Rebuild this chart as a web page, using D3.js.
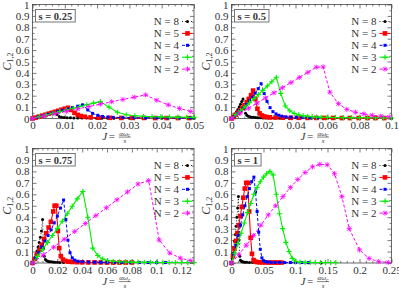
<!DOCTYPE html>
<html><head><meta charset="utf-8">
<script src="https://cdn.jsdelivr.net/npm/d3@7"></script>
<style>
body{margin:0;background:#fff}
svg{display:block}
text{font-family:"Liberation Serif","Times New Roman",serif;fill:#333}
</style>
</head><body>
<svg id="c" width="399" height="288"></svg>
<script>
// ---------------- DATA ----------------
const seriesNames = ["N = 8","N = 5","N = 4","N = 3","N = 2"];
const titles = ["s = 0.25","s = 0.5","s = 0.75","s = 1"];
const yTicks = [0,0.1,0.2,0.3,0.4,0.5,0.6,0.7,0.8,0.9,1];
const yTickLabels = ["0","0.1","0.2","0.3","0.4","0.5","0.6","0.7","0.8","0.9","1"];
const xTicks1 = [0,0.01,0.02,0.03,0.04,0.05];
const xTickLabels1 = ["0","0.01","0.02","0.03","0.04","0.05"];
const xTicks2 = [0,0.02,0.04,0.06,0.08,0.1];
const xTickLabels2 = ["0","0.02","0.04","0.06","0.08","0.1"];
const xTicks3 = [0,0.02,0.04,0.06,0.08,0.1,0.12];
const xTickLabels3 = ["0","0.02","0.04","0.06","0.08","0.1","0.12"];
const xTicks4 = [0,0.05,0.1,0.15,0.2,0.25];
const xTickLabels4 = ["0","0.05","0.1","0.15","0.2","0.25"];
const xMax = [0.05,0.1,0.13,0.25];

// s = 0.25
const p1_n8 = [[0,0],[0.0007,0.005],[0.0014,0.011],[0.0021,0.017],[0.0028,0.024],[0.0035,0.031],[0.0042,0.038],[0.0049,0.045],[0.0056,0.052],[0.0063,0.058],[0.0069,0.063],[0.0076,0.035],[0.0083,0.018],[0.009,0.012],[0.0098,0.009],[0.0107,0.007],[0.0117,0.006],[0.0128,0.005],[0.014,0.005],[0.0153,0.004],[0.0167,0.004],[0.0182,0.004],[0.0198,0.003],[0.0215,0.003],[0.0233,0.003],[0.0252,0.003],[0.0272,0.002],[0.03,0.002],[0.035,0.002],[0.04,0.002],[0.045,0.001],[0.05,0.001]];
const p1_n5 = [[0,0],[0.001,0.008],[0.002,0.016],[0.003,0.025],[0.004,0.033],[0.005,0.042],[0.006,0.05],[0.007,0.059],[0.008,0.068],[0.009,0.077],[0.01,0.086],[0.011,0.094],[0.012,0.075],[0.013,0.05],[0.014,0.032],[0.015,0.022],[0.0162,0.015],[0.018,0.01],[0.0205,0.007],[0.024,0.006],[0.0275,0.005],[0.031,0.005],[0.0345,0.005],[0.038,0.004],[0.0415,0.004],[0.045,0.004],[0.0485,0.004]];
const p1_n4 = [[0,0],[0.0016,0.012],[0.0031,0.024],[0.0047,0.036],[0.0062,0.048],[0.0078,0.06],[0.0093,0.072],[0.0109,0.084],[0.0124,0.096],[0.014,0.108],[0.0155,0.12],[0.0171,0.075],[0.0186,0.045],[0.0202,0.028],[0.0217,0.018],[0.0233,0.013],[0.025,0.01],[0.028,0.008],[0.0315,0.007],[0.035,0.006],[0.0385,0.006],[0.042,0.005],[0.0455,0.005],[0.049,0.005]];
const p1_n3 = [[0,0],[0.0021,0.015],[0.0042,0.03],[0.0063,0.045],[0.0084,0.06],[0.0105,0.075],[0.0126,0.09],[0.0147,0.105],[0.0168,0.12],[0.0189,0.135],[0.021,0.148],[0.0237,0.1],[0.0263,0.055],[0.029,0.033],[0.0317,0.024],[0.0344,0.019],[0.037,0.016],[0.0397,0.014],[0.0424,0.013],[0.045,0.012],[0.0477,0.011],[0.05,0.01]];
const p1_n2 = [[0,0],[0.0035,0.021],[0.007,0.042],[0.0105,0.063],[0.014,0.084],[0.0175,0.105],[0.021,0.126],[0.0245,0.147],[0.028,0.167],[0.0315,0.187],[0.035,0.207],[0.0385,0.16],[0.042,0.12],[0.0455,0.088],[0.049,0.062]];

// s = 0.5
const p2_n8 = [[0,0],[0.0008,0.012],[0.0016,0.026],[0.0024,0.042],[0.0032,0.06],[0.004,0.08],[0.0048,0.1],[0.0056,0.125],[0.0064,0.15],[0.0072,0.17],[0.008,0.09],[0.0088,0.045],[0.0096,0.028],[0.0105,0.02],[0.0115,0.015],[0.0126,0.012],[0.0138,0.01],[0.0151,0.008],[0.0165,0.007],[0.018,0.006],[0.0196,0.005],[0.0213,0.005],[0.0231,0.004],[0.025,0.004],[0.03,0.003],[0.036,0.003],[0.043,0.002],[0.05,0.002],[0.06,0.002],[0.07,0.001],[0.08,0.001],[0.09,0.001],[0.1,0.001]];
const p2_n5 = [[0,0],[0.0014,0.015],[0.0027,0.032],[0.0041,0.05],[0.0054,0.07],[0.0068,0.092],[0.0081,0.116],[0.0095,0.143],[0.0108,0.172],[0.0122,0.205],[0.0135,0.245],[0.0149,0.17],[0.0162,0.085],[0.0176,0.045],[0.019,0.027],[0.0205,0.018],[0.022,0.013],[0.024,0.01],[0.0275,0.008],[0.032,0.007],[0.037,0.006],[0.042,0.006],[0.0475,0.005],[0.053,0.005],[0.058,0.005],[0.0635,0.005],[0.069,0.004],[0.074,0.004],[0.0795,0.004],[0.085,0.004],[0.09,0.004],[0.0955,0.004]];
const p2_n4 = [[0,0],[0.0019,0.022],[0.0037,0.046],[0.0056,0.07],[0.0074,0.096],[0.0093,0.124],[0.0111,0.154],[0.013,0.187],[0.0148,0.222],[0.0167,0.262],[0.0185,0.305],[0.0204,0.22],[0.0222,0.15],[0.0241,0.095],[0.0259,0.06],[0.0278,0.04],[0.0296,0.028],[0.0315,0.02],[0.034,0.015],[0.037,0.012],[0.0405,0.01],[0.0445,0.008],[0.049,0.007],[0.054,0.006]];
const p2_n3 = [[0,0],[0.0028,0.034],[0.0056,0.068],[0.0084,0.103],[0.0112,0.138],[0.014,0.174],[0.0168,0.21],[0.0196,0.247],[0.0224,0.285],[0.0252,0.323],[0.028,0.362],[0.0308,0.22],[0.0336,0.11],[0.0364,0.068],[0.0392,0.045],[0.042,0.032],[0.0448,0.024],[0.0476,0.019],[0.0504,0.016],[0.0532,0.013],[0.056,0.011],[0.06,0.01],[0.065,0.009],[0.07,0.008],[0.075,0.007],[0.08,0.007],[0.085,0.006],[0.09,0.006],[0.095,0.005],[0.1,0.005]];
const p2_n2 = [[0,0],[0.0053,0.045],[0.0106,0.09],[0.0159,0.135],[0.0212,0.18],[0.0265,0.225],[0.0318,0.27],[0.0371,0.315],[0.0424,0.36],[0.0477,0.405],[0.053,0.45],[0.0573,0.452],[0.0615,0.23],[0.0668,0.13],[0.0721,0.08],[0.0774,0.055],[0.0827,0.04],[0.088,0.028],[0.0933,0.02],[0.0986,0.014]];

// s = 0.75
const p3_n8 = [[0,0],[0.0009,0.02],[0.0018,0.045],[0.0027,0.075],[0.0036,0.105],[0.0045,0.14],[0.0054,0.18],[0.0063,0.225],[0.0072,0.28],[0.0081,0.38],[0.0088,0.13],[0.0095,0.06],[0.0104,0.03],[0.0114,0.02],[0.0125,0.015],[0.0137,0.012],[0.015,0.01],[0.0165,0.008],[0.018,0.007],[0.02,0.006],[0.022,0.005],[0.025,0.005],[0.03,0.004],[0.035,0.004],[0.04,0.003],[0.045,0.003],[0.05,0.003],[0.055,0.002],[0.06,0.002],[0.065,0.002],[0.07,0.002]];
const p3_n5 = [[0,0],[0.0019,0.035],[0.0037,0.075],[0.0056,0.115],[0.0074,0.16],[0.0093,0.21],[0.0111,0.26],[0.013,0.31],[0.0148,0.36],[0.0167,0.45],[0.0178,0.5],[0.0192,0.5],[0.0204,0.28],[0.0215,0.13],[0.0228,0.06],[0.0245,0.03],[0.0265,0.018],[0.029,0.012],[0.032,0.009],[0.036,0.007],[0.04,0.006],[0.045,0.005],[0.05,0.005],[0.055,0.005],[0.06,0.004],[0.065,0.004],[0.07,0.004],[0.075,0.004],[0.08,0.004]];
const p3_n4 = [[0,0],[0.0025,0.045],[0.005,0.09],[0.0075,0.14],[0.01,0.19],[0.0125,0.24],[0.015,0.29],[0.0175,0.35],[0.02,0.41],[0.0225,0.48],[0.025,0.55],[0.0268,0.38],[0.0285,0.2],[0.0302,0.09],[0.032,0.045],[0.034,0.025],[0.0365,0.015],[0.04,0.011],[0.045,0.008],[0.05,0.007],[0.055,0.006],[0.06,0.006],[0.066,0.005],[0.072,0.005],[0.079,0.005],[0.086,0.004],[0.093,0.004],[0.1,0.004],[0.107,0.004]];
const p3_n3 = [[0,0],[0.004,0.058],[0.008,0.118],[0.012,0.178],[0.016,0.24],[0.02,0.302],[0.024,0.365],[0.028,0.43],[0.032,0.495],[0.036,0.56],[0.0405,0.625],[0.0445,0.4],[0.0485,0.13],[0.0525,0.065],[0.0565,0.035],[0.0605,0.022],[0.065,0.015],[0.07,0.011],[0.075,0.009],[0.08,0.008],[0.085,0.007],[0.09,0.006],[0.095,0.006],[0.1,0.005],[0.105,0.005],[0.11,0.005],[0.115,0.004],[0.12,0.004],[0.125,0.004],[0.13,0.004]];
const p3_n2 = [[0,0],[0.0085,0.069],[0.017,0.138],[0.0255,0.207],[0.034,0.276],[0.0425,0.345],[0.051,0.414],[0.0595,0.483],[0.068,0.552],[0.0765,0.621],[0.085,0.69],[0.0935,0.72],[0.102,0.2],[0.1105,0.087],[0.119,0.043],[0.1275,0.02]];

// s = 1
const p4_n8 = [[0,0],[0.0012,0.04],[0.0024,0.085],[0.0036,0.135],[0.0048,0.19],[0.006,0.25],[0.0072,0.32],[0.0084,0.4],[0.0096,0.48],[0.0108,0.58],[0.0118,0.2],[0.0128,0.06],[0.014,0.025],[0.0155,0.015],[0.017,0.01],[0.019,0.008],[0.021,0.007],[0.024,0.006],[0.028,0.005],[0.033,0.004],[0.04,0.004],[0.05,0.003],[0.06,0.003],[0.07,0.003],[0.08,0.002],[0.1,0.002],[0.12,0.002],[0.14,0.001]];
const p4_n5 = [[0,0],[0.0023,0.06],[0.0046,0.125],[0.0069,0.19],[0.0092,0.26],[0.0115,0.33],[0.0138,0.41],[0.0161,0.49],[0.0184,0.57],[0.0207,0.65],[0.023,0.7],[0.0253,0.7],[0.0276,0.45],[0.0299,0.22],[0.032,0.08],[0.0345,0.025],[0.037,0.012],[0.04,0.008],[0.044,0.006],[0.048,0.005],[0.053,0.005],[0.058,0.004],[0.063,0.004],[0.068,0.004],[0.073,0.004],[0.078,0.004]];
const p4_n4 = [[0,0],[0.0035,0.075],[0.007,0.155],[0.0105,0.24],[0.014,0.33],[0.0175,0.42],[0.021,0.5],[0.0245,0.58],[0.028,0.65],[0.0315,0.71],[0.035,0.75],[0.0375,0.62],[0.04,0.45],[0.0425,0.27],[0.045,0.12],[0.0475,0.045],[0.05,0.02],[0.053,0.012],[0.057,0.008],[0.062,0.006],[0.068,0.005],[0.075,0.005],[0.083,0.004],[0.092,0.004],[0.1,0.004],[0.11,0.004],[0.12,0.004]];
const p4_n3 = [[0,0],[0.005,0.085],[0.01,0.17],[0.015,0.26],[0.02,0.35],[0.025,0.44],[0.03,0.52],[0.035,0.6],[0.04,0.66],[0.045,0.71],[0.05,0.75],[0.055,0.78],[0.06,0.8],[0.065,0.77],[0.07,0.6],[0.075,0.43],[0.08,0.3],[0.085,0.18],[0.09,0.1],[0.095,0.04],[0.1,0.015],[0.107,0.007],[0.115,0.006],[0.123,0.005],[0.131,0.005],[0.139,0.004],[0.147,0.004],[0.155,0.004],[0.163,0.004]];
const p4_n2 = [[0,0],[0.0115,0.075],[0.023,0.155],[0.0345,0.24],[0.046,0.33],[0.0575,0.42],[0.069,0.5],[0.0805,0.58],[0.092,0.66],[0.1035,0.73],[0.115,0.79],[0.1265,0.84],[0.138,0.862],[0.1495,0.858],[0.161,0.78],[0.1725,0.58],[0.184,0.3],[0.2,0.115],[0.215,0.04],[0.23,0.012],[0.245,0.005]];

// ---------------- LAYOUT / STYLE ----------------
const styles = [
  {color:"#000000", dash:"1,2", marker:"circle", width:0.9},
  {color:"#ff0000", dash:null, marker:"square", width:1.1},
  {color:"#0000ff", dash:"3,2", marker:"smallsq", width:1},
  {color:"#00ee00", dash:null, marker:"plus", width:1.1},
  {color:"#ff00ff", dash:"3,2", marker:"star", width:1}
];
const panels = [
  {left:32.5, right:194, top:4.5, bottom:118.5, xticks:xTicks1, xlabels:xTickLabels1, xminor:0.002, data:[p1_n8,p1_n5,p1_n4,p1_n3,p1_n2]},
  {left:231.5, right:391.5, top:4.5, bottom:118.5, xticks:xTicks2, xlabels:xTickLabels2, xminor:0.004, data:[p2_n8,p2_n5,p2_n4,p2_n3,p2_n2]},
  {left:32.5, right:194, top:148.5, bottom:263, xticks:xTicks3, xlabels:xTickLabels3, xminor:0.004, data:[p3_n8,p3_n5,p3_n4,p3_n3,p3_n2]},
  {left:231.5, right:391.5, top:148.5, bottom:263, xticks:xTicks4, xlabels:xTickLabels4, xminor:0.01, data:[p4_n8,p4_n5,p4_n4,p4_n3,p4_n2]}
];

const svg = d3.select("#c");

function drawMarker(g, type, x, y, color){
  if(type==="circle"){
    g.append("circle").attr("cx",x).attr("cy",y).attr("r",1.5).attr("fill",color);
  } else if(type==="square"){
    g.append("rect").attr("x",x-2.3).attr("y",y-2.3).attr("width",4.6).attr("height",4.6).attr("fill",color);
  } else if(type==="smallsq"){
    g.append("rect").attr("x",x-1.5).attr("y",y-1.5).attr("width",3).attr("height",3).attr("fill",color);
  } else if(type==="plus"){
    g.append("path").attr("d",`M${x-2.6},${y}h5.2M${x},${y-2.6}v5.2`).attr("stroke",color).attr("stroke-width",1.1).attr("fill","none");
  } else {
    g.append("path").attr("d",`M${x-2.6},${y}h5.2M${x},${y-2.6}v5.2M${x-2},${y-2}l4,4M${x-2},${y+2}l4,-4`).attr("stroke",color).attr("stroke-width",0.8).attr("fill","none");
  }
}

panels.forEach((p,pi)=>{
  const x = d3.scaleLinear().domain([0,xMax[pi]]).range([p.left,p.right]);
  const y = d3.scaleLinear().domain([0,1]).range([p.bottom,p.top]);
  const g = svg.append("g");
  const minors = d3.range(0, xMax[pi]+1e-9, p.xminor).filter(v=>!p.xticks.some(t=>Math.abs(t-v)<1e-9));
  const yMinors = d3.range(0.05,1,0.1);

  const styleAxis = sel=>{ sel.select(".domain").remove(); sel.selectAll("line").attr("stroke","#444").attr("stroke-width",0.7); sel.selectAll("text").attr("fill","#333").style("font-size","11px").style("font-family","'Liberation Serif',serif"); };

  g.append("g").attr("transform",`translate(0,${p.bottom})`)
    .call(d3.axisBottom(x).tickValues(p.xticks).tickFormat((d,i)=>p.xlabels[i]).tickSizeInner(-4).tickSizeOuter(0).tickPadding(3))
    .call(styleAxis);
  g.append("g").attr("transform",`translate(0,${p.bottom})`)
    .call(d3.axisBottom(x).tickValues(minors).tickFormat("").tickSizeInner(-2).tickSizeOuter(0)).call(styleAxis);
  g.append("g").attr("transform",`translate(0,${p.top})`)
    .call(d3.axisTop(x).tickValues(p.xticks).tickFormat("").tickSizeInner(-4).tickSizeOuter(0)).call(styleAxis);
  g.append("g").attr("transform",`translate(0,${p.top})`)
    .call(d3.axisTop(x).tickValues(minors).tickFormat("").tickSizeInner(-2).tickSizeOuter(0)).call(styleAxis);
  g.append("g").attr("transform",`translate(${p.left},0)`)
    .call(d3.axisLeft(y).tickValues(yTicks).tickFormat((d,i)=>yTickLabels[i]).tickSizeInner(-4).tickSizeOuter(0).tickPadding(3))
    .call(styleAxis);
  g.append("g").attr("transform",`translate(${p.left},0)`)
    .call(d3.axisLeft(y).tickValues(yMinors).tickFormat("").tickSizeInner(-2).tickSizeOuter(0)).call(styleAxis);
  g.append("g").attr("transform",`translate(${p.right},0)`)
    .call(d3.axisRight(y).tickValues(yTicks).tickFormat("").tickSizeInner(-4).tickSizeOuter(0)).call(styleAxis);
  g.append("g").attr("transform",`translate(${p.right},0)`)
    .call(d3.axisRight(y).tickValues(yMinors).tickFormat("").tickSizeInner(-2).tickSizeOuter(0)).call(styleAxis);

  g.append("rect").attr("x",p.left).attr("y",p.top).attr("width",p.right-p.left).attr("height",p.bottom-p.top)
    .attr("fill","none").attr("stroke","#444").attr("stroke-width",0.8);

  const line = d3.line().x(d=>x(d[0])).y(d=>y(d[1]));
  p.data.forEach((ser,si)=>{
    const st = styles[si];
    const sg = g.append("g");
    sg.append("path").attr("d",line(ser)).attr("fill","none").attr("stroke",st.color)
      .attr("stroke-width",st.width).attr("stroke-dasharray",st.dash);
    ser.forEach(d=>drawMarker(sg, st.marker, x(d[0]), y(d[1]), st.color));
  });

  const lg = g.append("g");
  seriesNames.forEach((n,si)=>{
    const ly = p.top + 17 + si*11.9;
    const st = styles[si];
    lg.append("text").attr("x",p.right-15).attr("y",ly+3.5).attr("text-anchor","end")
      .style("font-size","11px").text(n);
    lg.append("line").attr("x1",p.right-12).attr("x2",p.right-1.5).attr("y1",ly).attr("y2",ly)
      .attr("stroke",st.color).attr("stroke-width",st.width).attr("stroke-dasharray",st.dash);
    drawMarker(lg, st.marker, p.right-6.5, ly, st.color);
  });

  const tb = g.append("g");
  const tt = tb.append("text").attr("x",p.left+6).attr("y",p.top+15).style("font-size","10.5px").style("font-weight","bold").attr("fill","#222").text(titles[pi]);
  const tw = tt.node().getComputedTextLength();
  tb.insert("rect","text").attr("x",p.left+3).attr("y",p.top+5).attr("width",tw+6).attr("height",12.5)
    .attr("fill","#fff").attr("stroke","#666").attr("stroke-width",0.9);

  const cy = (p.top+p.bottom)/2;
  const yl = g.append("text").attr("transform",`translate(${p.left-22},${cy}) rotate(-90)`).attr("text-anchor","middle").style("font-size","12px");
  yl.append("tspan").style("font-style","italic").text("C");
  yl.append("tspan").attr("dy",2.5).style("font-size","8px").text("1,2");

  const cx = (p.left+p.right)/2 + 5;
  const by = p.bottom + 21.5;
  g.append("text").attr("x",cx-16).attr("y",by).style("font-size","11px").style("font-style","italic").text("J");
  g.append("text").attr("x",cx-9.5).attr("y",by).style("font-size","11px").text("=");
  const num = g.append("text").attr("x",cx+6.5).attr("y",by-4.3).attr("text-anchor","middle").style("font-size","7px").style("font-style","italic");
  num.append("tspan").text("αω");
  num.append("tspan").attr("dy",1.3).style("font-size","5.5px").text("c");
  g.append("line").attr("x1",cx+0.5).attr("x2",cx+12.5).attr("y1",by-2.9).attr("y2",by-2.9).attr("stroke","#333").attr("stroke-width",0.6);
  g.append("text").attr("x",cx+6.5).attr("y",by+3.3).attr("text-anchor","middle").style("font-size","7px").style("font-style","italic").text("s");
});
</script>
</body></html>
